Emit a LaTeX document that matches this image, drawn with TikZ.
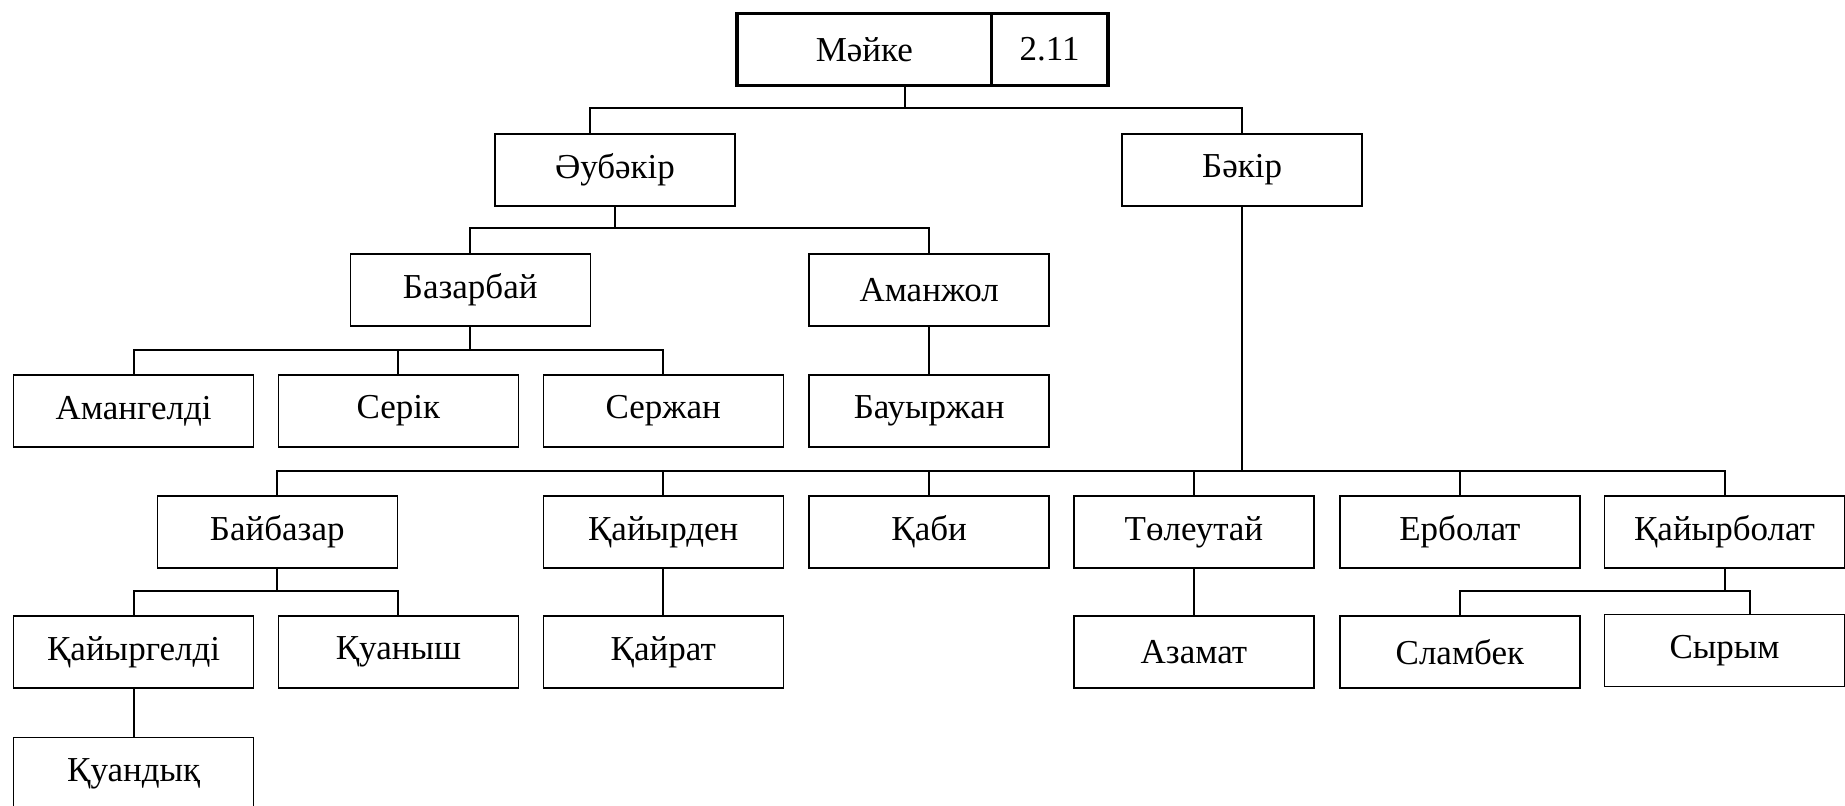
\documentclass[tikz,border=0pt]{standalone}
\usepackage{fontspec}
\setmainfont{Liberation Serif}
\begin{document}
\begin{tikzpicture}[x=1pt,y=-1pt,
  box/.style={draw, line width=1.5pt, minimum width=240pt, minimum height=72pt, inner sep=0pt, anchor=north west, font=\fontsize{35}{40}\selectfont},
  topbox/.style={box, line width=3.6pt, minimum height=71.7pt},
  conn/.style={line width=2pt}]
\useasboundingbox (0,0) rectangle (1845,806);
% top
\node[topbox, minimum width=254.2pt] (mayke) at (735.4,11.8) {Мәйке};
\node[topbox, minimum width=116.5pt] (num) at (989.6,11.8) {2.11};
% row 1
\node[box] (aub) at (494.2,133) {Әубәкір};
\node[box] (bak) at (1121.4,133) {Бәкір};
% row 2
\node[box] (baz) at (349.5,253) {Базарбай};
\node[box] (aman) at (808.4,253) {Аманжол};
% row 3
\node[box] (amang) at (12.9,374.2) {Амангелді};
\node[box] (serik) at (277.7,374.2) {Серік};
\node[box] (serzh) at (542.5,374.2) {Сержан};
\node[box] (bauyr) at (808.4,374.2) {Бауыржан};
% row 4
\node[box] (baib) at (156.5,495.4) {Байбазар};
\node[box] (qaiyrd) at (542.5,495.4) {Қайырден};
\node[box] (qabi) at (808.4,495.4) {Қаби};
\node[box] (tol) at (1073.2,495.4) {Төлеутай};
\node[box] (erb) at (1339.1,495.4) {Ерболат};
\node[box] (qaiyrb) at (1603.8,495.4) {Қайырболат};
% row 5
\node[box] (qaiyrg) at (12.9,615.4) {Қайыргелді};
\node[box] (quan) at (277.7,615.4) {Қуаныш};
\node[box] (qairat) at (542.5,615.4) {Қайрат};
\node[box] (azam) at (1073.2,615.4) {Азамат};
\node[box] (slam) at (1339.1,615.4) {Сламбек};
\node[box] (syr) at (1603.8,613.5) {Сырым};
% row 6
\node[box] (quand) at (12.9,736.6) {Қуандық};
% junctions
\coordinate (h0) at (904.9,108.3);
\coordinate (a0) at (589.5,108.3);
\coordinate (h1) at (615.4,228.3);
\coordinate (h2) at (469.5,349.5);
\coordinate (h3) at (1241.4,470.7);
\coordinate (h4) at (276.5,590.7);
\coordinate (s5) at (1749.8,590.7);
% connectors
\draw[conn] (h0 |- mayke.south) -- (h0);
\draw[conn] (a0 |- aub.north) |- (bak.north |- a0) -- (bak.north);
\draw[conn] (aub.south) -- (aub.south |- h1);
\draw[conn] (baz.north) |- (aman.north |- h1) -- (aman.north);
\draw[conn] (baz.south) -- (baz.south |- h2);
\draw[conn] (amang.north) |- (serzh.north |- h2) -- (serzh.north);
\draw[conn] (serik.north) -- (serik.north |- h2);
\draw[conn] (aman.south) -- (bauyr.north);
\draw[conn] (bak.south) -- (bak.south |- h3);
\draw[conn] (baib.north) |- (qaiyrb.north |- h3) -- (qaiyrb.north);
\draw[conn] (qaiyrd.north) -- (qaiyrd.north |- h3);
\draw[conn] (qabi.north) -- (qabi.north |- h3);
\draw[conn] (tol.north) -- (tol.north |- h3);
\draw[conn] (erb.north) -- (erb.north |- h3);
\draw[conn] (baib.south) -- (baib.south |- h4);
\draw[conn] (qaiyrg.north) |- (quan.north |- h4) -- (quan.north);
\draw[conn] (qaiyrg.south) -- (quand.north);
\draw[conn] (qaiyrd.south) -- (qairat.north);
\draw[conn] (tol.south) -- (azam.north);
\draw[conn] (qaiyrb.south) -- (qaiyrb.south |- s5);
\draw[conn] (slam.north) |- (s5) -- (s5 |- syr.north);
\end{tikzpicture}
\end{document}
